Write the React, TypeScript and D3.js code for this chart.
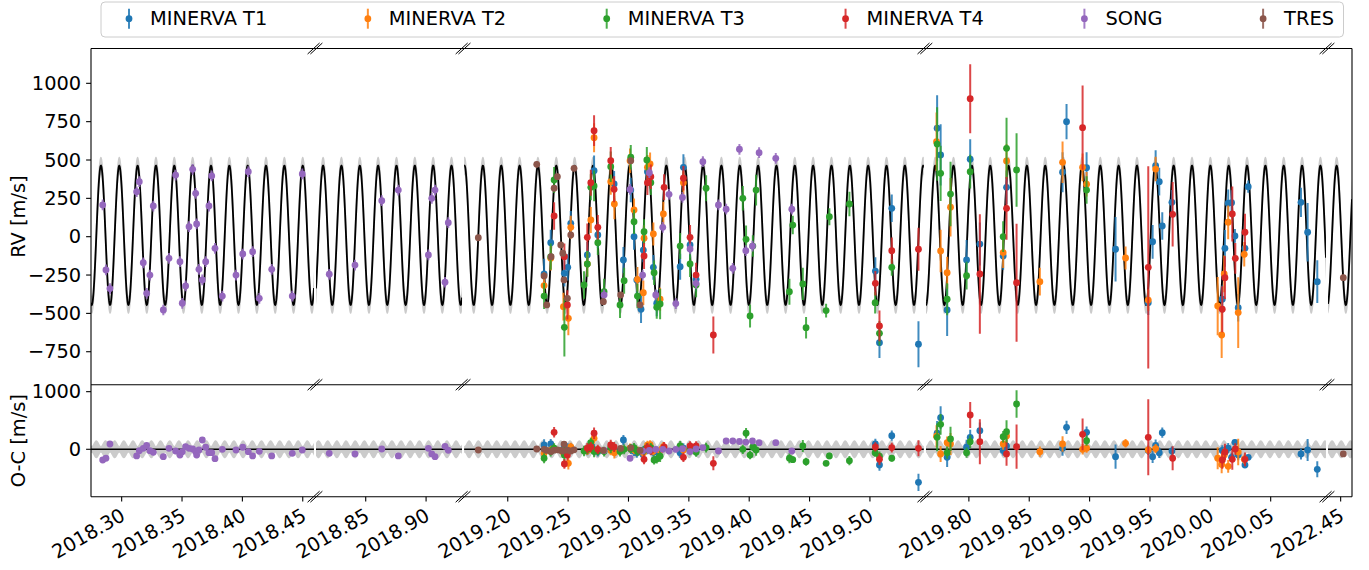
import React, { useMemo } from "react";
import * as d3 from "d3";

// ---- Axis layout data -------------------------------------------------------
// Time windows (decimal year) shown side by side on the broken x axis
const SEG_LIMITS: [number, number][] = [
  [2018.2746, 2018.4593],
  [2018.8088, 2018.9298],
  [2019.1638, 2019.5447],
  [2019.7644, 2020.0958],
  [2022.4395, 2022.4594],
];
const X_TICKS: number[][] = [
  [2018.3, 2018.35, 2018.4, 2018.45],
  [2018.85, 2018.9],
  [2019.2, 2019.25, 2019.3, 2019.35, 2019.4, 2019.45, 2019.5],
  [2019.8, 2019.85, 2019.9, 2019.95, 2020.0, 2020.05],
  [2022.45],
];
const RV_DOMAIN: [number, number] = [-965, 1227];
const RV_TICKS = [-750, -500, -250, 0, 250, 500, 750, 1000];
const OC_DOMAIN: [number, number] = [-823, 1121];
const OC_TICKS = [0, 1000];

// ---- Orbit model ------------------------------------------------------------
const PERIOD = 0.0151966; // yr
const T_PEAK = 2018.29801; // time of maximum RV
const K_AMP = 454;
const GAMMA = 9;
const SIG_AMP = 58; // band half width at the RV extremes
const SIG_PHASE = 156; // band half width at the zero crossings

// ---- Observations: [time (yr), RV (m/s), error (m/s), O-C (m/s)] ---------------
const MINERVA_T1: number[][] = [
  [2019.2301, -243, 100, 75], [2019.2356, -39, 85, 92], [2019.2469, -239, 85, 40],
  [2019.2497, -200, 85, 20], [2019.2522, 87, 80, 30], [2019.2659, -119, 85, -20],
  [2019.2715, 430, 100, -10], [2019.2746, 11, 85, -40], [2019.2881, 344, 85, 10],
  [2019.2958, -152, 85, 161], [2019.3019, 304, 80, 0], [2019.3046, 0, 85, -30],
  [2019.3069, -282, 85, -60], [2019.3104, -473, 90, -50], [2019.3123, -87, 80, -25],
  [2019.3157, 424, 75, -10], [2019.3206, -200, 80, -50], [2019.3234, -434, 85, -40],
  [2019.3428, -196, 85, -60], [2019.3455, 452, 85, 20], [2019.351, -54, 85, 0],
  [2019.356, -278, 80, -30], [2019.5045, -224, 90, 92], [2019.5079, -691, 100, -273],
  [2019.5181, 185, 90, 237], [2019.5402, -701, 150, -573], [2019.7737, 707, 215, 278],
  [2019.7766, 533, 200, 549], [2019.782, -478, 170, -139], [2019.7981, -152, 130, 35],
  [2019.8011, 505, 130, 208], [2019.8091, -48, 140, 323], [2019.8284, -126, 90, -20],
  [2019.8312, 322, 110, 57], [2019.8776, 420, 130, 17], [2019.8809, 750, 115, 382],
  [2019.8975, 450, 100, 295], [2019.9215, -82, 210, -128], [2019.9486, -430, 80, -20],
  [2019.9522, -33, 110, -128], [2019.9547, 463, 100, 69], [2019.9577, 359, 90, -60],
  [2019.9602, 70, 90, 289], [2019.9682, 224, 80, -30], [2020.0099, -408, 90, -20],
  [2020.0121, -76, 120, -60], [2020.0148, 218, 90, 20], [2020.0176, 222, 80, -139],
  [2020.0204, 5, 45, 121], [2020.0231, -463, 90, -100], [2020.0287, -76, 40, -273],
  [2020.0314, 326, 40, -139], [2020.0751, 224, 95, -81], [2020.0806, 29, 190, -12],
  [2020.0886, -293, 140, -347],
];
const MINERVA_T2: number[][] = [
  [2019.2301, -319, 85, -70], [2019.2356, -141, 80, -20], [2019.2461, -456, 90, -60],
  [2019.2502, -532, 110, -243], [2019.2522, 61, 75, 40], [2019.2659, -178, 80, -20],
  [2019.2688, 109, 85, 20], [2019.2715, 645, 95, 190], [2019.2853, 359, 85, -20],
  [2019.2883, 213, 100, -60], [2019.3013, 495, 80, 20], [2019.3046, 174, 75, -10],
  [2019.3074, -278, 80, -30], [2019.3123, -365, 80, -60], [2019.3129, -10, 85, -40],
  [2019.3157, 452, 80, 70], [2019.3179, 474, 75, 80], [2019.3206, 18, 75, -30],
  [2019.3262, -408, 75, -20], [2019.3289, 148, 80, 45], [2019.3455, 352, 75, -12],
  [2019.7732, 619, 190, 226], [2019.7766, -93, 139, -81], [2019.782, -235, 105, 115],
  [2019.7848, 192, 190, 92], [2019.8284, -104, 100, 92], [2019.8312, 494, 110, 231],
  [2019.8588, -293, 90, -41], [2019.8776, 485, 135, 92], [2019.8942, 452, 90, 0],
  [2019.8975, 342, 80, 20], [2019.9298, -139, 75, 104], [2019.9486, -413, 70, -12],
  [2019.9547, 441, 80, 12], [2020.0061, -452, 190, -156], [2020.0094, -641, 150, -266],
  [2020.0115, -243, 120, -100], [2020.0148, 94, 110, -296], [2020.0231, -495, 230, -46],
  [2020.0281, -115, 80, -174],
];
const MINERVA_T3: number[][] = [
  [2019.2301, -387, 85, -156], [2019.2356, -130, 85, -40], [2019.2384, 370, 85, 20],
  [2019.2469, -591, 190, -100], [2019.2632, -315, 90, -30], [2019.2659, -178, 85, 0],
  [2019.2688, 322, 85, 115], [2019.2715, 331, 100, -40], [2019.2746, -39, 80, -30],
  [2019.2798, -359, 85, -40], [2019.2853, 456, 100, 30], [2019.293, -445, 85, -40],
  [2019.2964, -287, 85, 0], [2019.3019, 518, 80, 10], [2019.3046, 98, 80, 30],
  [2019.3074, -387, 80, -40], [2019.3129, 33, 80, -20], [2019.3152, 500, 85, 20],
  [2019.3185, 352, 80, 30], [2019.3212, -235, 80, -186], [2019.3234, -460, 75, -170],
  [2019.3262, -439, 100, -120], [2019.3428, -61, 85, 60], [2019.351, -178, 85, -20],
  [2019.356, -315, 80, -50], [2019.3643, 316, 85, 30], [2019.3947, 250, 80, 0],
  [2019.3974, -17, 90, 278], [2019.4007, -517, 75, -100], [2019.403, -61, 70, 40],
  [2019.4057, 304, 100, -12], [2019.4333, -359, 85, -156], [2019.4361, 76, 60, -180],
  [2019.4444, -308, 105, 57], [2019.4471, -593, 70, -215], [2019.4637, -482, 45, -243],
  [2019.4664, 130, 55, -116], [2019.483, 213, 80, -198], [2019.5043, -430, 70, -60],
  [2019.5079, -630, 80, -120], [2019.5181, -200, 55, -156], [2019.7737, 604, 240, 208],
  [2019.7766, 413, 180, 434], [2019.782, -408, 105, -58], [2019.7848, 278, 210, 179],
  [2019.7981, -254, 90, -58], [2019.8011, 424, 110, 132], [2019.8284, 0, 100, 219],
  [2019.8312, 576, 200, 306], [2019.8395, 435, 240, 786], [2019.8975, 304, 90, 150],
];
const MINERVA_T4: number[][] = [
  [2019.2384, 135, 90, 295], [2019.2469, -130, 85, -255], [2019.2494, -445, 95, -99],
  [2019.2659, -4, 90, 20], [2019.2688, 352, 85, 40], [2019.2715, 691, 100, 278],
  [2019.2746, 61, 80, 0], [2019.2853, 495, 90, 75], [2019.2881, 309, 85, 40],
  [2019.3129, -126, 85, -174], [2019.3157, 352, 80, 30], [2019.3185, 391, 80, -20],
  [2019.3295, 322, 85, 40], [2019.3455, 381, 80, -139], [2019.351, -4, 80, 60],
  [2019.356, -250, 80, 60], [2019.3703, -641, 120, -243], [2019.5045, -304, 80, 40],
  [2019.5079, -582, 100, -174], [2019.5181, -91, 85, 30], [2019.5402, -82, 140, 17],
  [2019.8011, 900, 225, 595], [2019.8091, -243, 390, 132], [2019.8312, 185, 205, -81],
  [2019.8395, -300, 385, 46], [2019.8942, 711, 275, 260], [2019.9486, -200, 660, 208],
  [2019.9688, 146, 210, -156], [2020.0099, -473, 150, -186], [2020.0121, -267, 140, -46],
  [2020.0182, 148, 180, -174], [2020.0207, -141, 100, 5], [2020.0287, 29, 120, -174],
];
const SONG: number[][] = [
  [2018.2843, 207, 35, -186], [2018.287, -217, 35, -156], [2018.2903, -338, 35, 92],
  [2018.3124, 293, 35, -116], [2018.3146, 359, 35, -24], [2018.3179, -170, 35, 17],
  [2018.3207, -369, 35, 69], [2018.3234, -250, 35, -24], [2018.3262, 200, 35, -52],
  [2018.3345, -478, 35, -128], [2018.3392, -141, 35, 17], [2018.3447, 402, 35, -30],
  [2018.3483, -163, 35, -99], [2018.3502, -434, 35, -41], [2018.353, -321, 35, 45],
  [2018.3558, 65, 35, 17], [2018.3588, 439, 35, 5], [2018.3613, 283, 35, -41],
  [2018.3621, 83, 35, -99], [2018.364, -213, 35, -12], [2018.3668, -282, 35, 161],
  [2018.3696, -163, 35, 35], [2018.3723, 200, 35, -58], [2018.3746, 396, 35, -58],
  [2018.3773, -76, 35, -163], [2018.3834, -387, 35, 0], [2018.3947, -250, 35, -12],
  [2018.4003, -113, 35, 35], [2018.4049, 424, 35, -41], [2018.4085, -98, 35, -116],
  [2018.414, -402, 35, -35], [2018.4243, -213, 35, -116], [2018.4413, -387, 35, -70],
  [2018.4496, 409, 35, -12],
  [2018.8198, -245, 35, -70], [2018.8411, -185, 35, -81], [2018.8633, 235, 35, 5],
  [2018.877, 304, 35, -116], [2018.9019, -119, 35, 17], [2018.9047, 250, 35, -81],
  [2018.9074, 304, 35, -128], [2018.9157, -297, 35, 52], [2018.9184, 91, 35, -17],
  [2019.2798, -380, 35, -20], [2019.3013, 308, 35, -156], [2019.3117, -250, 35, -30],
  [2019.3173, 417, 35, -20], [2019.3226, -380, 35, 0], [2019.3284, 61, 35, 0],
  [2019.3336, 276, 35, -30], [2019.3392, -436, 35, 0], [2019.3447, 256, 35, 10],
  [2019.351, -80, 35, -40], [2019.356, -304, 35, 5], [2019.3616, 489, 35, 30],
  [2019.3745, 207, 35, -30], [2019.3809, 179, 35, 144], [2019.3864, -206, 35, 144],
  [2019.3919, 570, 35, 135], [2019.3972, -91, 35, 125], [2019.4027, -61, 35, 144],
  [2019.4082, 548, 35, 115], [2019.422, 511, 35, 115], [2019.4353, 179, 35, -30],
];
const TRES: number[][] = [
  [2019.1756, -7, 20, -12], [2019.224, 472, 20, 5], [2019.2301, -256, 20, 0],
  [2019.2323, -445, 20, -20], [2019.2359, -130, 20, -40], [2019.2384, 316, 20, -15],
  [2019.2411, 391, 20, -10], [2019.2439, -54, 20, -20], [2019.2456, -108, 20, -30],
  [2019.2466, -282, 20, 90], [2019.2494, -402, 20, -15], [2019.2522, 11, 20, -30],
  [2019.2549, 446, 20, -10], [2019.2792, -424, 20, -20], [2019.2935, -380, 20, 15],
  [2019.3019, 495, 20, 25], [2019.3096, -445, 20, -20], [2022.4522, -267, 20, -81],
];

const SERIES_NAMES = ["MINERVA T1", "MINERVA T2", "MINERVA T3", "MINERVA T4", "SONG", "TRES"];
const SERIES_COLORS = ["#1f77b4", "#ff7f0e", "#2ca02c", "#d62728", "#9467bd", "#8c564b"];
const SERIES_DATA = [MINERVA_T1, MINERVA_T2, MINERVA_T3, MINERVA_T4, SONG, TRES];

// ---- Geometry ---------------------------------------------------------------
const W = 1369;
const H = 570;
const LEFT = 91;
const RIGHT = 1352;
const TOP1 = 48.5;
const BOT1 = 384.7;
const TOP2 = 384.7;
const BOT2 = 496.7;
const GAP = 2;
const FONT = '"DejaVu Sans", sans-serif';
const FS = 19.4;
const BAND = "#cbcbcb";

const phase = (t: number) => (2 * Math.PI * (t - T_PEAK)) / PERIOD;
const model = (t: number) => GAMMA + K_AMP * Math.cos(phase(t));
const sigma = (t: number) =>
  Math.hypot(SIG_AMP * Math.cos(phase(t)), SIG_PHASE * Math.sin(phase(t)));

function buildScales() {
  const spans = SEG_LIMITS.map(([a, b]) => b - a);
  const total = d3.sum(spans);
  const avail = RIGHT - LEFT - GAP * (SEG_LIMITS.length - 1);
  let x = LEFT;
  return SEG_LIMITS.map((dom, i) => {
    const w = (avail * spans[i]) / total;
    const sc = d3.scaleLinear().domain(dom).range([x, x + w]);
    x += w + GAP;
    return sc;
  });
}

function measure(text: string) {
  const ctx = document.createElement("canvas").getContext("2d");
  if (!ctx) return text.length * FS * 0.62;
  ctx.font = `${FS}px "DejaVu Sans"`;
  return ctx.measureText(text).width;
}

const fmtY = (v: number) => (v < 0 ? "\u2212" + Math.abs(v) : String(v));

function BreakMark({ x, y }: { x: number; y: number }) {
  return (
    <g stroke="#000" strokeWidth={1}>
      {[-1.4, 1.4].map((dx) => (
        <line key={dx} x1={x - 6 + dx} y1={y + 5.5} x2={x + 6 + dx} y2={y - 5.5} />
      ))}
    </g>
  );
}

export default function App() {
  const scales = useMemo(buildScales, []);
  const yRV = d3.scaleLinear().domain(RV_DOMAIN).range([BOT1, TOP1]);
  const yOC = d3.scaleLinear().domain(OC_DOMAIN).range([BOT2, TOP2]);

  const segOf = (t: number) => SEG_LIMITS.findIndex(([a, b]) => t >= a && t <= b);

  const segments = scales.map((sc, i) => {
    const [a, b] = sc.domain();
    const [x0, x1] = sc.range();
    const n = Math.ceil((x1 - x0) * 4);
    const ts = d3.range(n + 1).map((k) => a + ((b - a) * k) / n);
    const curve = d3.line<number>().x((t) => sc(t)).y((t) => yRV(model(t)))(ts) || "";
    const band = d3
      .area<number>()
      .x((t) => sc(t))
      .y0((t) => yRV(model(t) - sigma(t)))
      .y1((t) => yRV(model(t) + sigma(t)))(ts) || "";
    const ocBand = d3
      .area<number>()
      .x((t) => sc(t))
      .y0((t) => yOC(-sigma(t)))
      .y1((t) => yOC(sigma(t)))(ts) || "";
    return { sc, i, x0, x1, curve, band, ocBand };
  });

  // legend placement from text widths
  const legendItems = useMemo(() => {
    let hx = 129;
    return SERIES_NAMES.map((name, k) => {
      const item = { name, color: SERIES_COLORS[k], hx, tx: hx + 21 };
      hx = item.tx + measure(name) + 100.6;
      return item;
    });
  }, []);
  const lastItem = legendItems[legendItems.length - 1];
  const legendRight = lastItem.tx + measure(lastItem.name) + 9.5;

  const breaks = scales.slice(0, -1).map((sc, i) => (sc.range()[1] + scales[i + 1].range()[0]) / 2);

  const renderPoints = (segIdx: number, panel: "rv" | "oc") =>
    SERIES_DATA.map((rows, s) => (
      <g key={s} fill={SERIES_COLORS[s]} stroke={SERIES_COLORS[s]}>
        {rows
          .filter((r) => segOf(r[0]) === segIdx)
          .map((r, k) => {
            const x = segments[segIdx].sc(r[0]);
            const v = panel === "rv" ? r[1] : r[3];
            const y = panel === "rv" ? yRV : yOC;
            return (
              <g key={k}>
                <line x1={x} x2={x} y1={y(v - r[2])} y2={y(v + r[2])} strokeWidth={2} strokeOpacity={0.85} />
                <circle cx={x} cy={y(v)} r={3.4} stroke="none" />
              </g>
            );
          })}
      </g>
    ));

  return (
    <svg
      width={W}
      height={H}
      style={{ position: "absolute", left: 0, top: 0, background: "#fff" }}
      fontFamily={FONT}
    >
      <defs>
        {segments.map((s) => (
          <React.Fragment key={s.i}>
            <clipPath id={`clip-rv-${s.i}`}>
              <rect x={s.x0} y={TOP1} width={s.x1 - s.x0} height={BOT1 - TOP1} />
            </clipPath>
            <clipPath id={`clip-oc-${s.i}`}>
              <rect x={s.x0} y={TOP2} width={s.x1 - s.x0} height={BOT2 - TOP2} />
            </clipPath>
          </React.Fragment>
        ))}
      </defs>

      {/* RV panel */}
      {segments.map((s) => (
        <g key={`rv${s.i}`} clipPath={`url(#clip-rv-${s.i})`}>
          <path d={s.band} fill={BAND} />
          <path d={s.curve} fill="none" stroke="#000" strokeWidth={1.8} />
          {renderPoints(s.i, "rv")}
        </g>
      ))}

      {/* residual panel */}
      {segments.map((s) => (
        <g key={`oc${s.i}`} clipPath={`url(#clip-oc-${s.i})`}>
          <path d={s.ocBand} fill={BAND} />
          <line x1={s.x0} x2={s.x1} y1={yOC(0)} y2={yOC(0)} stroke="#000" strokeWidth={1.5} />
          {renderPoints(s.i, "oc")}
        </g>
      ))}

      {/* frame */}
      <g stroke="#000" strokeWidth={1.1} fill="none">
        <line x1={LEFT} x2={RIGHT} y1={TOP1} y2={TOP1} />
        <line x1={LEFT} x2={RIGHT} y1={BOT1} y2={BOT1} />
        <line x1={LEFT} x2={RIGHT} y1={BOT2} y2={BOT2} />
        <line x1={LEFT} x2={LEFT} y1={TOP1} y2={BOT2} />
        <line x1={RIGHT} x2={RIGHT} y1={TOP1} y2={BOT2} />
      </g>
      {breaks.map((bx) => (
        <g key={bx}>
          <BreakMark x={bx} y={TOP1} />
          <BreakMark x={bx} y={BOT1} />
          <BreakMark x={bx} y={BOT2} />
        </g>
      ))}

      {/* y axes */}
      <g fontSize={FS} textAnchor="end">
        {RV_TICKS.map((v) => (
          <g key={v}>
            <line x1={LEFT - 4.9} x2={LEFT} y1={yRV(v)} y2={yRV(v)} stroke="#000" strokeWidth={1.1} />
            <text x={LEFT - 9.8} y={yRV(v)} dominantBaseline="central">{fmtY(v)}</text>
          </g>
        ))}
        {OC_TICKS.map((v) => (
          <g key={v}>
            <line x1={LEFT - 4.9} x2={LEFT} y1={yOC(v)} y2={yOC(v)} stroke="#000" strokeWidth={1.1} />
            <text x={LEFT - 9.8} y={yOC(v)} dominantBaseline="central">{fmtY(v)}</text>
          </g>
        ))}
      </g>
      <text
        transform={`translate(18.5,${(TOP1 + BOT1) / 2}) rotate(-90)`}
        textAnchor="middle"
        dominantBaseline="central"
        fontSize={FS}
      >
        RV [m/s]
      </text>
      <text
        transform={`translate(18.5,${(TOP2 + BOT2) / 2}) rotate(-90)`}
        textAnchor="middle"
        dominantBaseline="central"
        fontSize={FS}
      >
        O-C [m/s]
      </text>

      {/* x axis */}
      {segments.map((s) =>
        X_TICKS[s.i].map((v) => {
          const x = s.sc(v);
          return (
            <g key={`${s.i}-${v}`}>
              <line x1={x} x2={x} y1={BOT2} y2={BOT2 + 4.9} stroke="#000" strokeWidth={1.1} />
              <text
                transform={`translate(${x - 2.5},${BOT2 + 9.8}) rotate(-30)`}
                textAnchor="end"
                dy="0.76em"
                fontSize={FS}
              >
                {v.toFixed(2)}
              </text>
            </g>
          );
        })
      )}

      {/* legend */}
      <rect x={101} y={2} width={legendRight - 101} height={35} rx={4} fill="#fff" fillOpacity={0.8} stroke="#cccccc" />
      {legendItems.map((it) => (
        <g key={it.name}>
          <line x1={it.hx} x2={it.hx} y1={8.7} y2={28.7} stroke={it.color} strokeWidth={2} strokeOpacity={0.85} />
          <circle cx={it.hx} cy={18.7} r={3.4} fill={it.color} />
          <text x={it.tx} y={18.7} dominantBaseline="central" fontSize={FS}>
            {it.name}
          </text>
        </g>
      ))}
    </svg>
  );
}
